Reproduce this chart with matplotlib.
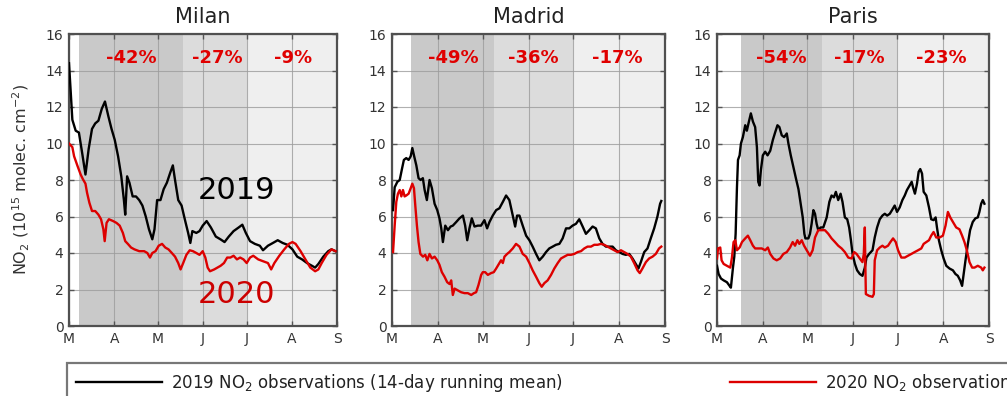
import numpy as np
import matplotlib
matplotlib.use("Agg")
import matplotlib.pyplot as plt

# ---- calendar axis (days since 1 March) ----
month_days = [0, 31, 61, 92, 122, 153, 184]
month_labels = ["M", "A", "M", "J", "J", "A", "S"]

# ---- Milan ----
milan_2019_d = [0, 1.2, 2.3, 4.6, 6.8, 9, 11.3, 13.5, 15.8, 18, 20.2, 22.5, 24.7, 27, 29.2, 31.4, 33.7,
                35.9, 37.7, 38.6, 39.9, 41.5, 43.7, 46, 48.2, 50.4, 52.7, 54.9, 57.2, 58.7, 60.5, 62.8,
                65, 67.2, 69.5, 71.3, 72.8, 75, 77.3, 79.5, 81.8, 83.3, 84.7, 87.4, 89.6, 91.8, 94.5,
                97.4, 100.8, 104, 106.8, 109.7, 113, 116.5, 119, 121.4, 124.3, 127.6, 131, 133.2, 136.6,
                140, 143.3, 146.7, 150, 153.4, 156.7, 160, 163.4, 166.8, 169, 171.2, 174.6, 178, 180.2, 183]
milan_2019_v = [14.4, 12.8, 11.3, 10.7, 10.6, 9.5, 8.3, 9.7, 10.8, 11.1, 11.25, 11.9, 12.3, 11.5, 10.8,
                10.2, 9.3, 8.2, 6.9, 6.1, 8.2, 7.85, 7.1, 7.1, 6.9, 6.6, 6.0, 5.3, 4.75, 5.3, 6.9, 6.9,
                7.5, 7.85, 8.4, 8.8, 8.0, 6.9, 6.6, 5.85, 5.1, 4.55, 5.2, 5.1, 5.2, 5.5, 5.75, 5.4, 4.9,
                4.75, 4.6, 4.9, 5.2, 5.4, 5.55, 5.1, 4.65, 4.5, 4.4, 4.15, 4.4, 4.55, 4.7, 4.55, 4.45,
                4.2, 3.8, 3.65, 3.45, 3.3, 3.2, 3.4, 3.8, 4.1, 4.2, 4.1]
milan_2020_d = [0, 2.3, 3.5, 5.7, 8, 9.5, 11.3, 12.4, 14, 15.8, 18, 20.2, 22, 23.6, 24.5, 25.8, 27.4,
                30.3, 32.6, 34.8, 37, 38.6, 40.4, 42.6, 44.9, 48.2, 51.6, 53.8, 55.6, 57.2, 59.4, 61.6,
                63.9, 66.1, 68.3, 70.6, 72.8, 75, 76.6, 78.4, 80.6, 82.9, 85.1, 87.4, 89.6, 91.8, 93.6,
                95.2, 96.8, 99.7, 101.9, 104.1, 106.4, 108.6, 110.8, 113, 115.3, 117.5, 119.8, 122,
                124.3, 126.5, 129.9, 133.2, 136.6, 138.8, 141, 144.4, 147.8, 151, 153.4, 155.6, 159,
                162.3, 165.7, 169, 171.2, 173.5, 176.8, 180.2, 183]
milan_2020_v = [10.0, 9.8, 9.3, 8.8, 8.3, 8.05, 7.8, 7.3, 6.75, 6.3, 6.3, 6.1, 5.85, 5.3, 4.65, 5.65,
                5.85, 5.75, 5.65, 5.5, 5.1, 4.65, 4.5, 4.3, 4.2, 4.1, 4.1, 4.0, 3.75, 4.0, 4.1, 4.4,
                4.5, 4.3, 4.2, 4.0, 3.8, 3.45, 3.1, 3.45, 3.9, 4.15, 4.1, 4.0, 3.9, 4.1, 3.75, 3.2, 3.0,
                3.1, 3.2, 3.3, 3.45, 3.75, 3.75, 3.85, 3.65, 3.75, 3.65, 3.45, 3.75, 3.85, 3.65, 3.55,
                3.45, 3.1, 3.45, 3.85, 4.2, 4.5, 4.6, 4.5, 4.1, 3.65, 3.2, 3.0, 3.1, 3.45, 3.9, 4.2, 4.1]

# ---- Madrid ----
madrid_2019_d = [0.7, 1.8, 3.6, 5.2, 6.7, 8, 9.6, 11.2, 12.6, 13.7, 14.8, 16.4, 17.9, 19.3, 20.8, 22,
                 23.5, 25.3, 26.9, 28.7, 30.5, 32, 33.2, 34.3, 35.9, 37.7, 39.5, 41, 43.3, 45.5, 47.8,
                 49.3, 50.7, 52.2, 53.8, 55.6, 57.8, 60, 62.3, 64.1, 65.7, 67.9, 70.2, 72.4, 74.7, 76.9,
                 79.1, 81.4, 83, 84.3, 85.9, 88.1, 90.4, 92.6, 94.8, 97.1, 99.3, 101.6, 103.8, 106,
                 108.3, 110.5, 112.8, 115, 117.3, 119.5, 121.7, 124, 126.2, 128.5, 130.7, 133, 135.2,
                 137.4, 139.7, 141.9, 144.2, 146.4, 148.7, 150.9, 153.1, 155.4, 157.6, 159.9, 162.1,
                 164.3, 166.1, 167.7, 170, 172.2, 174.4, 176.7, 178.9, 180.7, 181.5]
madrid_2019_v = [6.35, 7.6, 7.9, 8.0, 8.6, 9.1, 9.2, 9.1, 9.3, 9.75, 9.35, 8.8, 8.1, 8.0, 8.1, 7.45,
                 6.9, 8.0, 7.55, 6.7, 6.35, 5.9, 5.35, 4.6, 5.5, 5.25, 5.45, 5.5, 5.7, 5.9, 6.05, 5.5,
                 4.7, 5.35, 5.9, 5.45, 5.5, 5.5, 5.8, 5.35, 5.7, 6.05, 6.35, 6.45, 6.8, 7.15, 6.9, 6.05,
                 5.45, 6.05, 6.05, 5.5, 4.95, 4.7, 4.35, 3.95, 3.6, 3.8, 4.05, 4.25, 4.35, 4.45, 4.5,
                 4.8, 5.35, 5.35, 5.5, 5.6, 5.85, 5.45, 5.05, 5.25, 5.45, 5.35, 4.8, 4.5, 4.35, 4.35,
                 4.35, 4.15, 4.05, 3.95, 3.9, 3.95, 3.7, 3.4, 3.15, 3.5, 4.05, 4.25, 4.8, 5.35, 6.0,
                 6.7, 6.85]
madrid_2020_d = [0.7, 1.8, 2.9, 4, 5.2, 6.3, 7.4, 8.5, 9.6, 11.2, 12.6, 13.7, 14.8, 15.7, 16.8, 17.9,
                 19.1, 20.9, 22.4, 23.8, 25.3, 26.9, 28.7, 30.5, 32, 33.6, 35.4, 37.2, 38.8, 39.9, 41,
                 42.2, 44.4, 46.6, 48.9, 51.1, 53.4, 55.2, 56.7, 58.3, 60.1, 61.2, 62.8, 64.6, 66.8,
                 68.6, 70.2, 72.4, 73.5, 74.7, 75.8, 77.6, 79.1, 81.4, 83.6, 85.9, 88.1, 90.4, 92.6,
                 94.8, 97.1, 99.3, 100.9, 102.7, 104.9, 107.2, 109.4, 111.7, 113.9, 116.1, 118.4,
                 120.6, 122.9, 125.1, 127.4, 129.6, 131.8, 134.1, 136.3, 138.6, 140.8, 143, 145.3,
                 147.5, 149.8, 152, 154.3, 156.5, 158.7, 161, 163.2, 165.5, 167, 168.8, 171.1, 173.3,
                 175.6, 177.8, 180, 181.5]
madrid_2020_v = [4.05, 5.5, 6.8, 7.25, 7.45, 7.1, 7.45, 7.1, 7.15, 7.25, 7.55, 7.8, 7.55, 6.6, 5.5,
                 4.6, 3.95, 3.8, 3.9, 3.6, 3.95, 3.7, 3.8, 3.6, 3.35, 2.95, 2.7, 2.4, 2.3, 2.5, 1.7,
                 2.05, 1.95, 1.85, 1.8, 1.8, 1.7, 1.8, 1.85, 2.25, 2.8, 2.95, 2.95, 2.8, 2.9, 2.95, 3.15,
                 3.45, 3.6, 3.45, 3.8, 3.95, 4.05, 4.25, 4.5, 4.35, 3.95, 3.8, 3.45, 3.05, 2.7, 2.35,
                 2.15, 2.35, 2.5, 2.8, 3.15, 3.45, 3.7, 3.8, 3.9, 3.9, 3.95, 4.05, 4.1, 4.25, 4.35,
                 4.35, 4.45, 4.45, 4.5, 4.45, 4.35, 4.25, 4.15, 4.05, 4.15, 4.05, 3.95, 3.8, 3.45,
                 3.05, 2.9, 3.15, 3.5, 3.7, 3.8, 3.95, 4.25, 4.35]

# ---- Paris ----
paris_2019_d = [0, 1.1, 2.7, 4.5, 6.7, 8.5, 9.4, 10.8, 11.7, 12.6, 13.5, 14.2, 15.3, 16.2, 17.5, 19.1,
                20.2, 21.3, 22.9, 24.3, 25.8, 27, 27.9, 28.8, 29.7, 31, 32.6, 34.2, 36, 37.8, 39.3,
                40.9, 42.2, 43.8, 45.4, 47.2, 48.3, 49.9, 51.7, 53.5, 55.1, 56.6, 58, 59.1, 59.8, 61.8,
                62.9, 64, 65.2, 66.3, 67.4, 68.5, 70.1, 71.9, 74.2, 76, 77.5, 79.1, 80.4, 82, 83.6,
                84.9, 86.5, 88.1, 89.4, 90.6, 91.7, 93.3, 94.8, 96.6, 98.4, 100, 101.1, 102.9, 105.2,
                106.7, 108.3, 110.1, 111.9, 113.5, 115.1, 116.9, 118.4, 120.2, 121.8, 123.6, 125.4,
                127, 128.5, 130.3, 131.7, 132.6, 133.9, 135.3, 136.4, 137.5, 138.7, 139.8, 141.6,
                143.4, 144.9, 146.5, 147.9, 148.8, 150.1, 151.7, 153.3, 155.1, 157.3, 159.6, 161.3,
                162.9, 164.5, 165.8, 166.7, 168.1, 169.7, 171.2, 173, 174.8, 176.4, 177.5, 178.7,
                179.8, 180.9]
paris_2019_v = [3.3, 2.85, 2.6, 2.5, 2.4, 2.2, 2.1, 3.2, 3.8, 5.05, 7.6, 9.1, 9.35, 10.0, 10.35, 11.0,
                10.7, 11.1, 11.65, 11.2, 10.9, 9.8, 7.9, 7.7, 8.55, 9.35, 9.55, 9.35, 9.6, 10.2, 10.6,
                11.0, 10.9, 10.45, 10.35, 10.55, 10.0, 9.35, 8.7, 8.05, 7.5, 6.7, 5.95, 5.05, 4.8, 4.8,
                5.05, 5.6, 6.35, 6.15, 5.6, 5.25, 5.4, 5.4, 5.95, 6.8, 7.15, 7.05, 7.35, 6.9, 7.25,
                6.8, 5.95, 5.85, 5.4, 4.7, 3.95, 3.4, 3.05, 2.85, 2.75, 3.2, 3.75, 3.95, 4.15, 4.85,
                5.4, 5.85, 6.05, 6.15, 6.05, 6.15, 6.35, 6.6, 6.25, 6.5, 6.9, 7.15, 7.45, 7.7, 7.9,
                7.6, 7.25, 7.8, 8.45, 8.6, 8.35, 7.35, 7.15, 6.5, 5.85, 5.8, 5.95, 5.4, 4.7, 4.15,
                3.7, 3.3, 3.15, 3.05, 2.85, 2.75, 2.5, 2.2, 2.75, 3.6, 4.5, 5.25, 5.7, 5.9, 5.95,
                6.25, 6.7, 6.9, 6.7]
paris_2020_d = [0, 0.7, 2.2, 3.1, 4.5, 6.7, 9, 10.1, 11.2, 12.4, 13.5, 15.3, 16.9, 19.1, 20.9, 22.5,
                24.3, 25.8, 28.1, 30.3, 32.6, 34.4, 36, 38.2, 40.4, 42.7, 44.9, 47.2, 49.4, 51.2, 52.8,
                54.4, 55.7, 57.3, 58.9, 60.7, 62.9, 64.7, 66.3, 68.5, 70.8, 73, 75.3, 77.5, 79.8, 82,
                84.3, 86.5, 88.8, 91, 92.8, 94.4, 96.6, 98.4, 99.3, 100, 100.3, 100.7, 102.9, 105.2,
                106.1, 106.7, 108.3, 110.1, 111.9, 113.5, 115.7, 117.3, 119.1, 120.9, 122.5, 124.7,
                127, 129.2, 131.5, 133.7, 136, 138.2, 139.8, 141.6, 143.4, 144.9, 146.5, 148.3, 150.6,
                152.8, 154.6, 156.2, 157.8, 159.6, 161.8, 164, 165.8, 167.4, 169, 170.8, 172.6, 174.2,
                176.4, 178.7, 179.8, 180.9]
paris_2020_v = [3.7, 4.25, 4.3, 3.6, 3.4, 3.3, 3.2, 3.75, 4.6, 4.7, 4.15, 4.3, 4.6, 4.8, 4.95, 4.7,
                4.4, 4.25, 4.25, 4.25, 4.15, 4.3, 3.95, 3.7, 3.6, 3.7, 3.95, 4.05, 4.3, 4.6, 4.4, 4.7,
                4.5, 4.7, 4.4, 4.15, 3.85, 4.15, 4.85, 5.25, 5.25, 5.25, 5.05, 4.8, 4.6, 4.4, 4.25,
                4.05, 3.75, 3.7, 4.05, 3.95, 3.7, 3.5, 3.95, 5.4, 3.6, 1.75, 1.65, 1.6, 1.75, 3.6, 4.15,
                4.3, 4.4, 4.3, 4.4, 4.6, 4.8, 4.6, 4.15, 3.75, 3.75, 3.85, 3.95, 4.05, 4.15, 4.25, 4.5,
                4.6, 4.7, 4.95, 5.15, 4.85, 4.85, 4.95, 5.5, 6.25, 5.95, 5.7, 5.4, 5.3, 4.95, 4.6,
                4.15, 3.5, 3.2, 3.2, 3.3, 3.2, 3.05, 3.2]

# ---- lockdown phases (day ranges) and reported changes ----
cities = ["Milan", "Madrid", "Paris"]
phase_edges = {
    "Milan": [7, 78, 122, 184],
    "Madrid": [13, 69, 122, 184],
    "Paris": [16, 71, 122, 184],
}
phase_changes = {
    "Milan": ["-42%", "-27%", "-9%"],
    "Madrid": ["-49%", "-36%", "-17%"],
    "Paris": ["-54%", "-17%", "-23%"],
}
change_label_days = {
    "Milan": [43, 101.5, 153.5],
    "Madrid": [41, 95, 152],
    "Paris": [43.3, 96, 151.6],
}
series = {
    "Milan": (milan_2019_d, milan_2019_v, milan_2020_d, milan_2020_v),
    "Madrid": (madrid_2019_d, madrid_2019_v, madrid_2020_d, madrid_2020_v),
    "Paris": (paris_2019_d, paris_2019_v, paris_2020_d, paris_2020_v),
}

phase_colors = ["#c9c9c9", "#dcdcdc", "#efefef"]
c2019 = "#000000"
c2020 = "#dd0000"
txt_gray = "#333333"

W, H = 1007, 396
fig = plt.figure(figsize=(W / 100, H / 100), dpi=100)
fig.patch.set_facecolor("white")

# axes boxes in pixels: left, right, top, bottom
boxes = {"Milan": (69, 337, 34, 326), "Madrid": (392, 665, 34, 326), "Paris": (717, 989, 34, 326)}

lines = {}
for city in cities:
    l, r, t, b = boxes[city]
    ax = fig.add_axes([l / W, 1 - b / H, (r - l) / W, (b - t) / H])
    edges = phase_edges[city]
    for i in range(3):
        ax.axvspan(edges[i], edges[i + 1], color=phase_colors[i], lw=0, zorder=0.8)
    d19, v19, d20, v20 = series[city]
    l19, = ax.plot(d19, v19, color=c2019, lw=1.7, zorder=3)
    l20, = ax.plot(d20, v20, color=c2020, lw=1.7, zorder=3)
    lines["2019"], lines["2020"] = l19, l20
    for lab, xd in zip(phase_changes[city], change_label_days[city]):
        ax.text(xd, 14.7, lab, color="#e00000", fontsize=13, fontweight="bold",
                ha="center", va="center", zorder=4)
    ax.set_xlim(0, 184)
    ax.set_ylim(0, 16)
    ax.set_xticks(month_days)
    ax.set_xticklabels(month_labels)
    ax.set_yticks(range(0, 17, 2))
    ax.grid(True, color="#9c9c9c", lw=0.8, alpha=0.8)
    ax.tick_params(direction="in", length=3.5, width=1, top=True, right=True,
                   labelsize=10, labelcolor=txt_gray, color="#555555", pad=4)
    for s in ax.spines.values():
        s.set_color("#505050")
        s.set_linewidth(1.6)
    ax.set_title(city, fontsize=15, color="#222222", pad=8)
    if city == "Milan":
        ax.set_ylabel("NO$_2$ (10$^{15}$ molec. cm$^{-2}$)", fontsize=11.5, color=txt_gray, labelpad=10)
        ax.text(88.5, 7.45, "2019", fontsize=22, color="#000000", ha="left", va="center", zorder=5)
        ax.text(88.5, 1.7, "2020", fontsize=22, color="#cc0000", ha="left", va="center", zorder=5)

leg = fig.legend([lines["2019"], lines["2020"]],
                 ["2019 NO$_2$ observations (14-day running mean)", "2020 NO$_2$ observations (14-day running mean)"],
                 loc="upper left", bbox_to_anchor=(67 / W, 1 - 363 / H), borderaxespad=0,
                 ncol=2, fontsize=12, handlelength=5.15, handletextpad=0.55, columnspacing=10,
                 fancybox=False, frameon=True, borderpad=0.55)
leg.get_frame().set_edgecolor("#555555")
leg.get_frame().set_linewidth(1.6)
for txt in leg.get_texts():
    txt.set_color("#222222")

fig.savefig("out.png", dpi=100)
